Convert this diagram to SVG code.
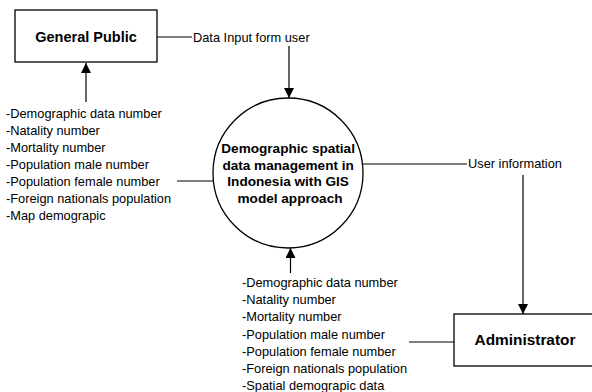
<svg xmlns="http://www.w3.org/2000/svg" width="592" height="392" viewBox="0 0 592 392">
<style>
  .box{fill:#fff;stroke:#000;stroke-width:1.3}
  .ln{fill:none;stroke:#000;stroke-width:1.2}
  .t{font-family:"Liberation Sans",Arial,sans-serif;font-size:12.8px;fill:#000}
  .b{font-family:"Liberation Sans",Arial,sans-serif;font-weight:bold;fill:#000;text-anchor:middle}
</style>
<defs>
  <marker id="arr" viewBox="0 0 10 10" refX="10" refY="5" markerWidth="10" markerHeight="10" markerUnits="userSpaceOnUse" orient="auto">
    <path d="M0,0 L10,5 L0,10 Z" fill="#000"/>
  </marker>
</defs>
<rect width="592" height="392" fill="#fff"/>
<g id="connectors">
  <line class="ln" x1="157" y1="37" x2="192" y2="37"/>
  <line class="ln" x1="289" y1="46" x2="289" y2="98" marker-end="url(#arr)"/>
  <line class="ln" x1="86" y1="102" x2="86" y2="63" marker-end="url(#arr)"/>
  <line class="ln" x1="177" y1="181" x2="214" y2="181"/>
  <line class="ln" x1="363" y1="164" x2="467" y2="164"/>
  <line class="ln" x1="523" y1="175" x2="523" y2="314" marker-end="url(#arr)"/>
  <line class="ln" x1="290.5" y1="273" x2="290.5" y2="248" marker-end="url(#arr)"/>
  <line class="ln" x1="409" y1="342" x2="454" y2="342"/>
  <text class="t" x="193" y="42">Data Input form user</text>
  <text class="t" x="468" y="168">User information</text>
</g>
<g id="general-public">
  <rect class="box" x="15" y="10" width="142" height="52"/>
  <text class="b" x="86" y="42" font-size="14.5">General Public</text>
</g>
<g id="process">
  <circle class="box" cx="288" cy="173" r="75"/>
  <text class="b" font-size="13.6">
    <tspan x="290" y="153">Demographic spatial</tspan>
    <tspan x="290" y="169.5">data management in</tspan>
    <tspan x="290" y="186">Indonesia with GIS</tspan>
    <tspan x="290" y="202.5">model approach</tspan>
  </text>
</g>
<g id="administrator">
  <rect class="box" x="454" y="314" width="140" height="52"/>
  <text class="b" x="525" y="345" font-size="15.4">Administrator</text>
</g>
<g id="left-list">
  <text class="t">
    <tspan x="6" y="117.5">-Demographic data number</tspan>
    <tspan x="6" y="134.6">-Natality number</tspan>
    <tspan x="6" y="151.7">-Mortality number</tspan>
    <tspan x="6" y="168.8">-Population male number</tspan>
    <tspan x="6" y="185.9">-Population female number</tspan>
    <tspan x="6" y="203">-Foreign nationals population</tspan>
    <tspan x="6" y="220.1">-Map demograpic</tspan>
  </text>
</g>
<g id="bottom-list">
  <text class="t">
    <tspan x="242" y="287">-Demographic data number</tspan>
    <tspan x="242" y="304.2">-Natality number</tspan>
    <tspan x="242" y="321.4">-Mortality number</tspan>
    <tspan x="242" y="338.6">-Population male number</tspan>
    <tspan x="242" y="355.8">-Population female number</tspan>
    <tspan x="242" y="373">-Foreign nationals population</tspan>
    <tspan x="242" y="390.2">-Spatial demograpic data</tspan>
  </text>
</g>
</svg>
